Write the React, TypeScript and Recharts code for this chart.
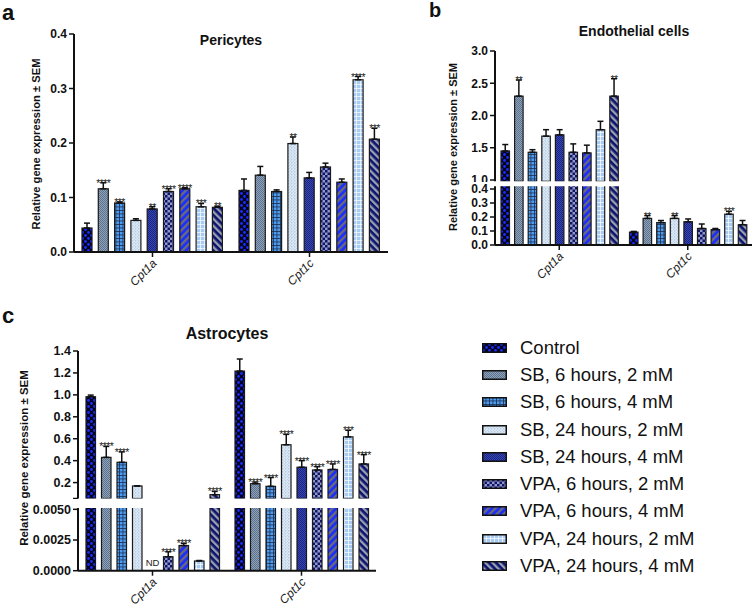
import React from "react";
import { BarChart, Bar, XAxis, YAxis, ErrorBar } from "recharts";

const genes = ["Cpt1a", "Cpt1c"];
const treatments = [
  "Control",
  "SB, 6 hours, 2 mM",
  "SB, 6 hours, 4 mM",
  "SB, 24 hours, 2 mM",
  "SB, 24 hours, 4 mM",
  "VPA, 6 hours, 2 mM",
  "VPA, 6 hours, 4 mM",
  "VPA, 24 hours, 2 mM",
  "VPA, 24 hours, 4 mM",
];

// a – Pericytes
const periCpt1a = [0.044, 0.116, 0.09, 0.058, 0.079, 0.111, 0.116, 0.083, 0.082];
const periCpt1aSem = [0.009, 0.011, 0.002, 0.003, 0.004, 0.005, 0.002, 0.006, 0.002];
const periCpt1aSig = ["", "****", "***", "", "**", "****", "****", "***", "**"];
const periCpt1c = [0.113, 0.141, 0.111, 0.199, 0.136, 0.156, 0.128, 0.316, 0.207];
const periCpt1cSem = [0.021, 0.016, 0.003, 0.012, 0.01, 0.007, 0.006, 0.006, 0.02];
const periCpt1cSig = ["", "", "", "**", "", "", "", "****", "***"];

// b – Endothelial cells
const endoCpt1a = [1.45, 2.3, 1.43, 1.68, 1.7, 1.43, 1.42, 1.78, 2.3];
const endoCpt1aSem = [0.1, 0.25, 0.04, 0.1, 0.08, 0.13, 0.12, 0.13, 0.27];
const endoCpt1aSig = ["", "**", "", "", "", "", "", "", "**"];
const endoCpt1c = [0.092, 0.19, 0.16, 0.19, 0.166, 0.118, 0.11, 0.22, 0.145];
const endoCpt1cSem = [0.005, 0.02, 0.015, 0.02, 0.02, 0.032, 0.008, 0.02, 0.03];
const endoCpt1cSig = ["", "**", "", "**", "", "", "", "***", ""];

// c – Astrocytes (null = not detected)
const astroCpt1a = [0.983, 0.43, 0.385, 0.169, null, 0.00114, 0.00205, 0.00079, 0.09];
const astroCpt1aSem = [0.015, 0.1, 0.095, 0.002, null, 0.0004, 0.00018, 0.00004, 0.03];
const astroCpt1aSig = ["", "****", "****", "", "ND", "****", "****", "", "****"];
const astroCpt1c = [1.217, 0.19, 0.166, 0.545, 0.34, 0.315, 0.32, 0.617, 0.37];
const astroCpt1cSem = [0.11, 0.015, 0.08, 0.095, 0.06, 0.03, 0.05, 0.06, 0.085];
const astroCpt1cSig = ["", "****", "****", "****", "****", "****", "****", "***", "****"];

const FONT = '"Liberation Sans", Arial, Helvetica, sans-serif';
const INK = "#111";

function buildRows(sets: any[], lo: number, hi: number) {
  return genes.map((gene, g) => {
    const [vals, sems, sigs] = sets[g];
    const row: any = { gene };
    vals.forEach((v: number | null, i: number) => {
      const inSeg = v != null && v > lo && v <= hi;
      // bars below this segment collapse to the segment floor (zero height)
      row[`v${i}`] = v == null || v < lo ? lo : v;
      row[`e${i}`] = inSeg && sems[i] ? [0, sems[i]] : null;
      row[`m${i}`] = sems[i] ?? 0;
      row[`s${i}`] = inSeg ? sigs[i] : "";
    });
    return row;
  });
}

// bar with its significance stars set just above the error cap
const barShape = (i: number, lo: number) => (props: any) => {
  const { x, y, width, height, payload, fill } = props;
  if (!height || !width) return null;
  const top = Math.min(y, y + height);
  const h = Math.abs(height);
  const v = payload[`v${i}`];
  const sig = payload[`s${i}`];
  let star = null;
  if (sig) {
    const k = h / (v - Math.max(lo, 0));
    const capY = top - payload[`m${i}`] * k;
    star = (
      <text
        x={x + width / 2}
        y={capY + 4}
        textAnchor="middle"
        fontSize={10.5}
        fill="#222"
        fontFamily={FONT}
        letterSpacing={-0.6}
      >
        {sig}
      </text>
    );
  }
  return (
    <g>
      <rect x={x} y={top} width={width} height={h} fill={fill} stroke="#1a1a1a" strokeWidth={1.2} />
      {star}
    </g>
  );
};

// gene tick; the undetected (ND) value is the middle (5th) bar of its group,
// so its marker sits straight above the category tick
const GeneTick = (props: any) => {
  const { x, y, payload, nd } = props;
  return (
    <g transform={`translate(${x},${y})`}>
      {nd && nd.includes(payload.value) && (
        <text x={0} y={-12} textAnchor="middle" fontSize={9.5} fill="#222" fontFamily={FONT}>
          ND
        </text>
      )}
      <text transform="translate(5,5) rotate(-45)" textAnchor="end" fontStyle="italic" fontSize={12} fill="#222" fontFamily={FONT}>
        {payload.value}
      </text>
    </g>
  );
};

type SegProps = {
  rows: any[];
  lo: number;
  hi: number;
  ticks: number[];
  fmt: (v: number) => string;
  width: number;
  height: number;
  margin: any;
  yWidth: number;
  barSize: number;
  barGap: number;
  showX: boolean;
  xHeight?: number;
  tickFont?: number;
  nd?: string[];
};

function Segment(p: SegProps) {
  return (
    <BarChart
      width={p.width}
      height={p.height}
      data={p.rows}
      margin={p.margin}
      barSize={p.barSize}
      barGap={p.barGap}
    >
      <XAxis
        dataKey="gene"
        hide={!p.showX}
        height={p.xHeight ?? 40}
        axisLine={{ stroke: INK, strokeWidth: 2 }}
        tickLine={{ stroke: INK, strokeWidth: 1.5 }}
        tickSize={5}
        interval={0}
        tick={<GeneTick nd={p.nd} />}
      />
      <YAxis
        type="number"
        domain={[p.lo, p.hi]}
        allowDataOverflow
        ticks={p.ticks}
        interval={0}
        tickFormatter={p.fmt}
        width={p.yWidth}
        axisLine={{ stroke: INK, strokeWidth: 2 }}
        tickLine={{ stroke: INK, strokeWidth: 1.5 }}
        tickSize={5}
        tick={{ fill: INK, fontSize: p.tickFont ?? 12, fontWeight: 700, fontFamily: FONT }}
      />
      {treatments.map((t, i) => (
        <Bar
          key={t}
          dataKey={`v${i}`}
          fill={`url(#pat${i})`}
          shape={barShape(i, p.lo)}
          isAnimationActive={false}
        >
          <ErrorBar dataKey={`e${i}`} width={3} stroke={INK} strokeWidth={1.5} direction="y" />
        </Bar>
      ))}
    </BarChart>
  );
}

function Patterns() {
  return (
    <svg width={0} height={0} style={{ position: "absolute" }}>
      <defs>
        <pattern id="pat0" width="6" height="6" patternUnits="userSpaceOnUse">
          <rect width="6" height="6" fill="#04041c" />
          <circle cx="1.5" cy="1.5" r="1.4" fill="#1a2cff" />
          <circle cx="4.5" cy="4.5" r="1.4" fill="#1a2cff" />
        </pattern>
        <pattern id="pat1" width="2" height="2" patternUnits="userSpaceOnUse">
          <rect width="2" height="2" fill="#8ea3bb" />
          <rect width="1" height="1" fill="#5d728c" />
          <rect x="1" y="1" width="1" height="1" fill="#5d728c" />
        </pattern>
        <pattern id="pat2" width="3.5" height="3.5" patternUnits="userSpaceOnUse">
          <rect width="3.5" height="3.5" fill="#4c9cf0" />
          <path d="M0 0.4H3.5M0.4 0V3.5" stroke="#1c2a48" strokeWidth="0.8" />
        </pattern>
        <pattern id="pat3" width="3" height="3" patternUnits="userSpaceOnUse">
          <rect width="3" height="3" fill="#dde9f6" />
          <circle cx="0.8" cy="0.8" r="0.6" fill="#8eaccb" />
          <circle cx="2.3" cy="2.3" r="0.5" fill="#a9c2dc" />
        </pattern>
        <pattern id="pat4" width="2" height="2" patternUnits="userSpaceOnUse">
          <rect width="2" height="2" fill="#3646b4" />
          <rect width="1" height="1" fill="#1b247e" />
          <rect x="1" y="1" width="1" height="1" fill="#1b247e" />
        </pattern>
        <pattern id="pat5" width="5" height="5" patternUnits="userSpaceOnUse">
          <rect width="5" height="5" fill="#8d9ac4" />
          <rect width="2.5" height="2.5" fill="#13136a" />
          <rect x="2.5" y="2.5" width="2.5" height="2.5" fill="#13136a" />
        </pattern>
        <pattern id="pat6" width="5" height="5" patternUnits="userSpaceOnUse" patternTransform="rotate(45)">
          <rect width="5" height="5" fill="#1a2cff" />
          <rect width="2.3" height="5" fill="#6c6c76" />
        </pattern>
        <pattern id="pat7" width="4" height="4" patternUnits="userSpaceOnUse">
          <rect width="4" height="4" fill="#a8cbf3" />
          <path d="M0 0.4H4M0.4 0V4" stroke="#ffffff" strokeWidth="0.8" />
        </pattern>
        <pattern id="pat8" width="5" height="5" patternUnits="userSpaceOnUse" patternTransform="rotate(-45)">
          <rect width="5" height="5" fill="#0c1470" />
          <rect width="2.3" height="5" fill="#9a9fb0" />
        </pattern>
      </defs>
    </svg>
  );
}

const f1 = (v: number) => v.toFixed(1);

export default function App() {
  const periRows = buildRows(
    [
      [periCpt1a, periCpt1aSem, periCpt1aSig],
      [periCpt1c, periCpt1cSem, periCpt1cSig],
    ],
    0,
    0.4
  );
  const endoSets = [
    [endoCpt1a, endoCpt1aSem, endoCpt1aSig],
    [endoCpt1c, endoCpt1cSem, endoCpt1cSig],
  ];
  const endoTop = buildRows(endoSets, 0.98, 3.0);
  const endoBot = buildRows(endoSets, 0, 0.42);
  const astroSets = [
    [astroCpt1a, astroCpt1aSem, astroCpt1aSig],
    [astroCpt1c, astroCpt1cSem, astroCpt1cSig],
  ];
  const astroTop = buildRows(astroSets, 0.055, 1.4);
  const astroBot = buildRows(astroSets, 0, 0.0051);
  const astroND = genes.filter((_, g) => [astroCpt1aSig, astroCpt1cSig][g].includes("ND"));

  const abs = (left: number, top: number): React.CSSProperties => ({ position: "absolute", left, top });

  return (
    <div style={{ position: "absolute", left: 0, top: 0, width: 756, height: 612, background: "#fff", fontFamily: FONT, overflow: "hidden" }}>
      <Patterns />

      {/* a */}
      <div style={abs(0, 0)}>
        <Segment
          rows={periRows}
          lo={0}
          hi={0.4}
          ticks={[0, 0.1, 0.2, 0.3, 0.4]}
          fmt={f1}
          width={400}
          height={300}
          margin={{ top: 34, right: 12, bottom: 8, left: 0 }}
          yWidth={74}
          barSize={10}
          barGap={6.3}
          showX
          xHeight={40}
        />
      </div>

      {/* b */}
      <div style={abs(380, 0)}>
        <Segment
          rows={endoTop}
          lo={0.98}
          hi={3.0}
          ticks={[1.0, 1.5, 2.0, 2.5, 3.0]}
          fmt={f1}
          width={376}
          height={182}
          margin={{ top: 51, right: 4, bottom: 0.7, left: 0 }}
          yWidth={115}
          barSize={8.5}
          barGap={5.1}
          showX={false}
        />
      </div>
      <div style={abs(380, 182)}>
        <Segment
          rows={endoBot}
          lo={0}
          hi={0.42}
          ticks={[0, 0.1, 0.2, 0.3, 0.4]}
          fmt={f1}
          width={376}
          height={118}
          margin={{ top: 4.2, right: 4, bottom: 15, left: 0 }}
          yWidth={115}
          barSize={8.5}
          barGap={5.1}
          showX
          xHeight={40}
        />
      </div>

      {/* c */}
      <div style={abs(0, 300)}>
        <Segment
          rows={astroTop}
          lo={0.055}
          hi={1.4}
          ticks={[0.055, 0.2, 0.4, 0.6, 0.8, 1.0, 1.2, 1.4]}
          fmt={(v) => (v < 0.1 ? "" : v.toFixed(1))}
          width={380}
          height={199}
          margin={{ top: 51, right: 4, bottom: 0.5, left: 0 }}
          yWidth={78}
          barSize={9.5}
          barGap={6}
          showX={false}
          tickFont={12.5}
        />
      </div>
      <div style={abs(0, 500)}>
        <Segment
          rows={astroBot}
          lo={0}
          hi={0.0051}
          ticks={[0, 0.0025, 0.005]}
          fmt={(v) => v.toFixed(4)}
          width={380}
          height={112}
          margin={{ top: 8.1, right: 4, bottom: 6.3, left: 0 }}
          yWidth={78}
          barSize={9.5}
          barGap={6}
          showX
          xHeight={35}
          tickFont={12.5}
          nd={astroND}
        />
      </div>

      {/* letters, titles, axis titles */}
      <svg width={756} height={612} style={{ position: "absolute", left: 0, top: 0, pointerEvents: "none" }}>
        <g fontFamily={FONT} fill={INK} fontWeight={700}>
          <text x={2} y={20} fontSize={22}>a</text>
          <text x={429} y={17} fontSize={20}>b</text>
          <text x={2} y={323} fontSize={22}>c</text>
          <text x={231} y={45} fontSize={14} textAnchor="middle">Pericytes</text>
          <text x={634} y={36} fontSize={14} textAnchor="middle">Endothelial cells</text>
          <text x={227} y={339} fontSize={16} textAnchor="middle">Astrocytes</text>
          <text transform="translate(36,144) rotate(-90)" fontSize={11.2} textAnchor="middle" dominantBaseline="central">
            Relative gene expression ± SEM
          </text>
          <text transform="translate(452.5,147) rotate(-90)" fontSize={11} textAnchor="middle" dominantBaseline="central">
            Relative gene expression ± SEM
          </text>
          <text transform="translate(24,458) rotate(-90)" fontSize={11.5} textAnchor="middle" dominantBaseline="central">
            Relative gene expression ± SEM
          </text>
        </g>
      </svg>

      {/* legend */}
      <div style={{ position: "absolute", left: 482, top: 334 }}>
        {treatments.map((t, i) => (
          <div key={t} style={{ display: "flex", alignItems: "center", height: 27.3 }}>
            <svg width={25} height={10} style={{ marginRight: 13, flex: "none" }}>
              <rect x={0.75} y={0.75} width={23.5} height={8.5} fill={`url(#pat${i})`} stroke={INK} strokeWidth={1.5} />
            </svg>
            <span style={{ fontSize: 18.5, color: INK, whiteSpace: "nowrap" }}>{t}</span>
          </div>
        ))}
      </div>
    </div>
  );
}
